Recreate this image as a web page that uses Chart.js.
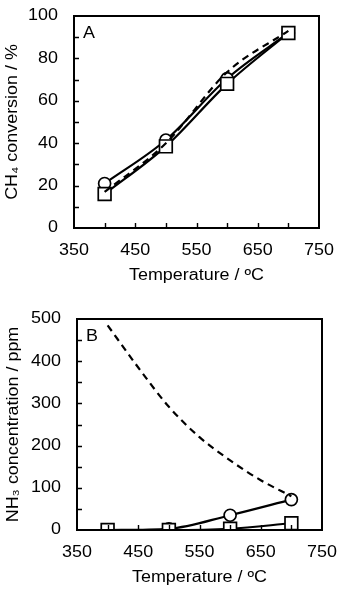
<!DOCTYPE html>
<html>
<head>
<meta charset="utf-8">
<script src="https://cdn.jsdelivr.net/npm/chart.js@4.4.1/dist/chart.umd.min.js"></script>
<style>
  html, body { margin: 0; padding: 0; background: #fff; }
  #wrap { position: relative; width: 340px; height: 604px; }
  canvas { position: absolute; left: 0; }
</style>
</head>
<body>
<div id="wrap">
  <canvas id="cA" width="340" height="300" style="top:0"></canvas>
  <canvas id="cB" width="340" height="304" style="top:300px"></canvas>
</div>
<script>
// ---------- DATA ----------
const temps = [400, 500, 600, 700];
// Panel A: CH4 conversion / %
const convCircle = [21, 41.5, 70.5, 92];
const convSquare = [16, 38.5, 68, 92];
const convDashed = [17, 40, 73.5, 93];
// Panel B: NH3 concentration / ppm
const nh3DashedTemps = [400, 450, 500, 550, 600, 650, 700];
const nh3Dashed = [485, 385, 292, 220, 165, 118, 80];
const nh3Circle = [0, 3, 35, 72];
const nh3Square = [0, 0, 3, 16];
// Axis ticks
const xTickLabels = [350, 450, 550, 650, 750];
const yTicksA = [0, 20, 40, 60, 80, 100];
const yTicksB = [0, 100, 200, 300, 400, 500];

const FONT = "'Liberation Sans', Arial, Helvetica, sans-serif";
const FS = 16;          // font size
const STRETCH = 1.12;   // the reference text is drawn a little wide

function pts(xs, ys) { return xs.map((x, i) => ({ x: x, y: ys[i] })); }

// widen every text drawn on the chart canvases (text stays real text)
const stretchPlugin = {
  id: 'stretch',
  beforeDraw(chart) {
    const ctx = chart.ctx;
    if (ctx.__stretched) return;
    const orig = CanvasRenderingContext2D.prototype.fillText;
    ctx.fillText = function (t, x, y, mw) {
      this.save();
      this.translate(x, y);
      this.scale(STRETCH, 1);
      if (mw === undefined) orig.call(this, t, 0, 0);
      else orig.call(this, t, 0, 0, mw / STRETCH);
      this.restore();
    };
    ctx.__stretched = true;
  }
};

const framePlugin = {
  id: 'frame',
  afterDraw(chart, args, opts) {
    const { ctx, chartArea: { left, top, right, bottom }, scales: { x, y } } = chart;
    ctx.save();
    ctx.strokeStyle = '#000';
    ctx.lineWidth = 2;
    ctx.strokeRect(left, top, right - left, bottom - top);
    ctx.lineWidth = 1.4;
    ctx.beginPath();
    for (let v = x.min + opts.xMinor; v < x.max; v += opts.xMinor) {
      const px = Math.round(x.getPixelForValue(v)) + 0.5;
      ctx.moveTo(px, bottom); ctx.lineTo(px, bottom - 5);
    }
    for (let v = y.min + opts.yMinor; v < y.max; v += opts.yMinor) {
      const py = Math.round(y.getPixelForValue(v)) + 0.5;
      ctx.moveTo(left, py); ctx.lineTo(left + 5, py);
    }
    ctx.stroke();
    ctx.fillStyle = '#000';
    ctx.font = FS + 'px ' + FONT;
    ctx.textBaseline = 'top';
    ctx.textAlign = 'left';
    ctx.fillText(opts.label, left + 9, top + 10);
    ctx.restore();
  }
};

function makeChart(id, cfg) {
  return new Chart(document.getElementById(id), {
    type: 'line',
    data: { datasets: cfg.datasets },
    options: {
      responsive: false,
      animation: false,
      devicePixelRatio: 1,
      layout: { padding: { top: cfg.padTop, right: cfg.padRight, left: 0, bottom: 0 } },
      plugins: {
        legend: { display: false },
        tooltip: { enabled: false },
        frame: { label: cfg.label, xMinor: 50, yMinor: cfg.yMinor }
      },
      scales: {
        x: {
          type: 'linear', min: 350, max: 750,
          afterBuildTicks: s => { s.ticks = xTickLabels.map(v => ({ value: v })); },
          afterFit: s => { s.height = cfg.xHeight; s.paddingLeft = 0; s.paddingRight = 0; },
          grid: { display: false, drawTicks: false },
          border: { display: false },
          ticks: { color: '#000', font: { size: FS, family: FONT }, padding: 13, maxRotation: 0, autoSkip: false },
          title: { display: true, text: 'Temperature / ºC', color: '#000', font: { size: FS, family: FONT }, padding: { top: 0, bottom: cfg.xTitleBottom } }
        },
        y: {
          type: 'linear', min: cfg.yMin, max: cfg.yMax,
          afterBuildTicks: s => { s.ticks = cfg.yTicks.map(v => ({ value: v })); },
          afterFit: s => { s.width = cfg.yWidth; s.paddingTop = 0; s.paddingBottom = 0; },
          grid: { display: false, drawTicks: false },
          border: { display: false },
          ticks: { color: '#000', font: { size: FS, family: FONT }, padding: 16, autoSkip: false },
          title: { display: true, text: cfg.yTitle, color: '#000', font: { size: FS, family: FONT }, padding: { top: cfg.yTitleLeft, bottom: 0 } }
        }
      }
    },
    plugins: [stretchPlugin, framePlugin]
  });
}

function solid(data, style, r) {
  return {
    data: data, borderColor: '#000', borderWidth: 2.2, cubicInterpolationMode: 'monotone',
    pointStyle: style, pointRadius: r, pointBackgroundColor: '#fff', pointBorderColor: '#000', pointBorderWidth: 1.7
  };
}
function dashed(data) {
  return {
    data: data, borderColor: '#000', borderWidth: 2.2, borderDash: [7, 5], cubicInterpolationMode: 'monotone',
    pointRadius: 0
  };
}

makeChart('cA', {
  label: 'A', padTop: 16, padRight: 21, yWidth: 74, xHeight: 72, xTitleBottom: 15, yTitleLeft: 3,
  yMin: 0, yMax: 100, yTicks: yTicksA, yMinor: 10,
  yTitle: 'CH₄ conversion / %',
  datasets: [
    dashed(pts(temps, convDashed)),
    solid(pts(temps, convSquare), 'rect', 9),
    solid(pts(temps, convCircle), 'circle', 6)
  ]
});

makeChart('cB', {
  label: 'B', padTop: 19, padRight: 18, yWidth: 77, xHeight: 74, xTitleBottom: 17, yTitleLeft: 4,
  yMin: 0, yMax: 500, yTicks: yTicksB, yMinor: 50,
  yTitle: 'NH₃ concentration / ppm',
  datasets: [
    dashed(pts(nh3DashedTemps, nh3Dashed)),
    solid(pts(temps, nh3Square), 'rect', 9),
    solid(pts(temps, nh3Circle), 'circle', 6)
  ]
});
</script>
</body>
</html>
